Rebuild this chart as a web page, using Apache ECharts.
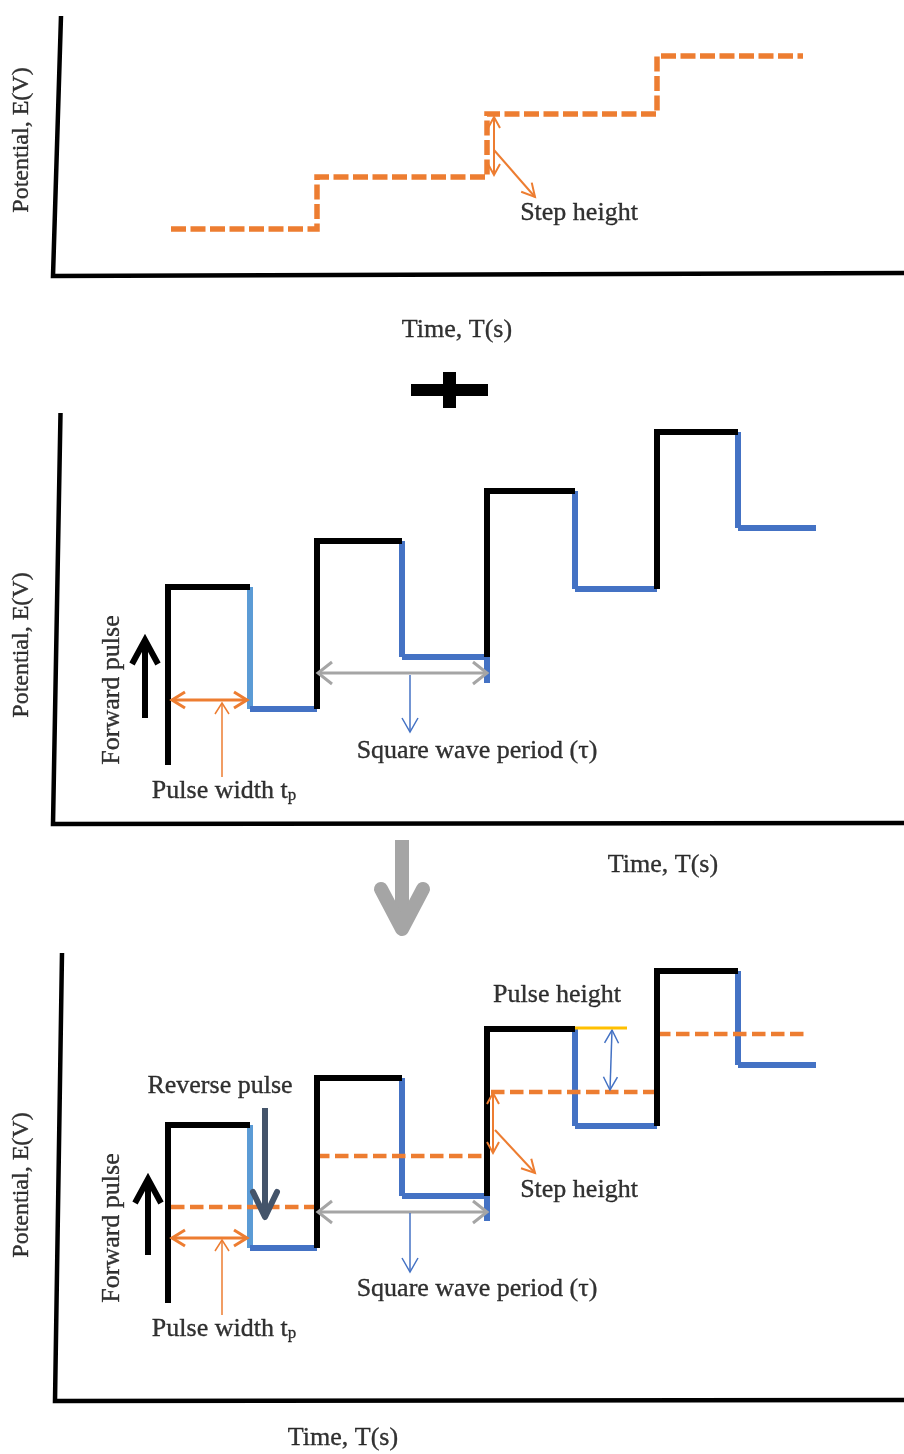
<!DOCTYPE html>
<html><head><meta charset="utf-8">
<script src="https://cdn.jsdelivr.net/npm/echarts@6/dist/echarts.min.js"></script>
<style>html,body{margin:0;padding:0;background:#fff}#c{width:904px;height:1454px}</style>
</head><body><div id="c"></div>
<script>
// ================= DATA (time units / potential units) =================
// Panel 1: staircase potential
const stair1Times  = [11.8, 26.4, 43.4, 60.4, 75.0];
const stair1Levels = [4.7, 9.9, 16.2, 22.0, 22.0];

// Square-wave edges (rise, fall, rise, fall, ..., end) shared by panels 2 and 3
const edgeTimes = [11.5, 19.7, 26.4, 34.9, 43.4, 52.2, 60.4, 68.5, 76.3];

// Panel 2: square wave
const wave2Start   = 5.9;
const wave2Tops    = [23.7, 28.3, 33.3, 39.2];
const wave2Bottoms = [11.5, 16.7, 23.5, 29.6];
const wave2Tail    = 14.1;

// Panel 3: square wave superimposed on staircase
const wave3Start   = 9.8;
const wave3Tops    = [27.6, 32.3, 37.2, 43.0];
const wave3Bottoms = [15.3, 20.5, 27.5, 33.6];
const wave3Tail    = 18.0;
const stair3Starts = [11.8, 26.3, 43.8, 60.4];
const stair3Ends   = [26.3, 43.4, 60.4, 75.1];
const stair3Levels = [19.4, 24.5, 30.9, 36.7];

// Hand-drawn axis frames (top of y axis, origin, end of x axis)
const frame1 = [[0.8, 26.0], [0, 0], [85.1, 0.3]];
const frame2 = [[0.75, 41.1], [0, 0], [85.1, 0.1]];
const frame3 = [[0.9, 44.8], [0.2, 0], [85.1, 0.1]];

// Annotation arrows: [x1, y1, x2, y2, headAtStart, headAtEnd]
const stepArrow1     = [[44.1, 15.9, 44.1, 10.1, 1, 1]];
const stepPointer1   = [[44.1, 12.6, 48.2, 7.9, 0, 1]];

const forward2       = [[9.2, 10.6, 9.2, 18.4, 0, 1]];
const pulseWidth2    = [[11.9, 12.4, 19.4, 12.4, 1, 1]];
const pwPointer2     = [[16.9, 4.7, 16.9, 12.1, 0, 1]];
const period2        = [[26.5, 15.1, 43.4, 15.1, 1, 1]];
const periodPointer2 = [[35.7, 14.9, 35.7, 9.2, 0, 1]];
const plusSign       = [[35.8, 43.4, 43.5, 43.4, 0, 0], [39.65, 45.2, 39.65, 41.6, 0, 0]];
const bigArrow       = [[34.9, -1.6, 34.9, -10.5, 0, 1]];

const forward3       = [[9.5, 14.6, 9.5, 22.2, 0, 1]];
const reverse3       = [[21.2, 29.3, 21.2, 18.4, 0, 1]];
const pulseWidth3    = [[11.9, 16.3, 19.4, 16.3, 1, 1]];
const pwPointer3     = [[16.9, 8.6, 16.9, 16.1, 0, 1]];
const period3        = [[26.5, 18.9, 43.4, 18.9, 1, 1]];
const periodPointer3 = [[35.7, 18.8, 35.7, 12.9, 0, 1]];
const stepArrow3     = [[44.0, 30.8, 44.0, 24.8, 1, 1]];
const stepPointer3   = [[44.2, 27.1, 48.2, 22.8, 0, 1]];
const pulseHArrow3   = [[55.9, 37.1, 55.7, 31.1, 1, 1]];
const pulseHRef3     = [[52.2, 37.3, 57.4, 37.3, 0, 0]];

// Text annotations: [text, x, y]
const notes1  = [['Step height', 52.6, 6.3], ['Time, T(s)', 40.4, -5.4]];
const yTitle1 = [['Potential, E(V)', -3.1, 13.6]];
const notes2  = [['Pulse width t{s|p}', 17.1, 3.3], ['Square wave period (τ)', 42.4, 7.3], ['Time, T(s)', 61.0, -4.1]];
const side2   = [['Forward pulse', 5.9, 13.4]];
const yTitle2 = [['Potential, E(V)', -3.1, 17.9]];
const notes3  = [['Reverse pulse', 16.7, 31.5], ['Pulse height', 50.4, 40.6], ['Step height', 52.6, 21.1],
                 ['Pulse width t{s|p}', 17.1, 7.2], ['Square wave period (τ)', 42.4, 11.2], ['Time, T(s)', 29.0, -3.7]];
const side3   = [['Forward pulse', 5.9, 17.3]];
const yTitle3 = [['Potential, E(V)', -3.1, 21.6]];

// ================= STYLES / BUILDERS =================
const FONT = '"Liberation Serif","Times New Roman",serif';
const ORANGE = '#ED7D31', BLUE = '#4472C4', LBLUE = '#5B9BD5', GRAY = '#A5A5A5', SLATE = '#44546A', YELLOW = '#FFC000';

function poly(grid, pts, color, width, z, extra) {
  return Object.assign({
    type: 'line', xAxisIndex: grid, yAxisIndex: grid, data: pts, symbol: 'none', silent: true,
    animation: false, z: z, clip: false,
    lineStyle: Object.assign({ color: color, width: width, cap: 'butt', join: 'miter' }, (extra && extra.ls) || {})
  }, (extra && extra.opt) || {});
}

function waveSeries(grid, start, tops, bottoms, tail) {
  const out = [];
  for (let i = 0; i < tops.length; i++) {
    const rise = edgeTimes[2 * i], fall = edgeTimes[2 * i + 1], next = edgeTimes[2 * i + 2];
    const prev = i === 0 ? start : bottoms[i - 1];
    out.push(poly(grid, [[rise, prev], [rise, tops[i]], [fall, tops[i]]], '#000', 6, 6));
    out.push(poly(grid, [[fall, tops[i]], [fall, bottoms[i]]], i === 0 ? LBLUE : BLUE, 6, 4));
    out.push(poly(grid, [[fall, bottoms[i]], [next, bottoms[i]]], BLUE, 6, 4));
  }
  out.push(poly(grid, [[edgeTimes[4], bottoms[1]], [edgeTimes[4], tail]], BLUE, 6, 4));
  return out;
}

function arrowSeries(grid, items, st) {
  return {
    type: 'custom', xAxisIndex: grid, yAxisIndex: grid, z: st.z || 10, silent: true, animation: false, clip: false,
    dimensions: ['x1', 'y1', 'x2', 'y2', 'hs', 'he'],
    encode: { x: [0, 2], y: [1, 3] },
    data: items,
    renderItem: function (params, api) {
      const a = api.coord([api.value(0), api.value(1)]);
      const b = api.coord([api.value(2), api.value(3)]);
      const kids = [{ type: 'line', shape: { x1: a[0], y1: a[1], x2: b[0], y2: b[1] },
        style: { stroke: st.color, lineWidth: st.width, lineCap: st.cap || 'butt', fill: 'none' } }];
      const head = function (tip, from) {
        const dx = tip[0] - from[0], dy = tip[1] - from[1], len = Math.hypot(dx, dy) || 1;
        const ux = dx / len, uy = dy / len, px = -uy, py = ux;
        const bx = tip[0] - ux * st.L, by = tip[1] - uy * st.L;
        kids.push({ type: 'polyline', shape: { points: [[bx + px * st.W, by + py * st.W], [tip[0], tip[1]], [bx - px * st.W, by - py * st.W]] },
          style: { stroke: st.color, lineWidth: st.hw || st.width, fill: 'none', lineJoin: st.join || 'miter', lineCap: st.hcap || 'butt' } });
      };
      if (api.value(4)) head(a, b);
      if (api.value(5)) head(b, a);
      return { type: 'group', children: kids };
    }
  };
}

function labelSeries(grid, items, size, rot) {
  return {
    type: 'scatter', xAxisIndex: grid, yAxisIndex: grid, symbol: 'circle', symbolSize: 1, silent: true,
    animation: false, clip: false, z: 20, itemStyle: { color: 'rgba(0,0,0,0)' },
    data: items.map(function (d) {
      return { value: [d[1], d[2]], label: {
        show: true, position: 'inside', formatter: d[0], rotate: rot || 0, color: '#000',
        textBorderColor: '#000', textBorderWidth: 0.35,
        fontFamily: FONT, fontSize: size, lineHeight: 26,
        rich: { s: { fontFamily: FONT, fontSize: 17, lineHeight: 12, verticalAlign: 'bottom', color: '#000',
                     textBorderColor: '#000', textBorderWidth: 0.3 } }
      } };
    })
  };
}

const series = [];
// ---- panel 1 ----
series.push(poly(0, frame1, '#000', 4.5, 1));
series.push(poly(0, stair1Times.map((t, i) => [t, stair1Levels[i]]), ORANGE, 5.5, 3,
  { ls: { type: [15, 4.5] }, opt: { step: 'end' } }));
series.push(arrowSeries(0, stepArrow1, { color: ORANGE, width: 2, L: 11, W: 6 }));
series.push(arrowSeries(0, stepPointer1, { color: ORANGE, width: 2, L: 13, W: 7 }));
series.push(labelSeries(0, notes1, 26, 0));
series.push(labelSeries(0, yTitle1, 24, 90));

// ---- panel 2 ----
series.push(poly(1, frame2, '#000', 4.5, 1));
waveSeries(1, wave2Start, wave2Tops, wave2Bottoms, wave2Tail).forEach(s => series.push(s));
series.push(arrowSeries(1, forward2, { color: '#000', width: 6, L: 24, W: 13, hw: 6 }));
series.push(arrowSeries(1, pulseWidth2, { color: ORANGE, width: 3, L: 13, W: 8 }));
series.push(arrowSeries(1, pwPointer2, { color: ORANGE, width: 1.5, L: 11, W: 7 }));
series.push(arrowSeries(1, period2, { color: GRAY, width: 3, L: 14, W: 11 }));
series.push(arrowSeries(1, periodPointer2, { color: BLUE, width: 1.5, L: 14, W: 8 }));
series.push(arrowSeries(1, plusSign.slice(0, 1), { color: '#000', width: 12 }));
series.push(arrowSeries(1, plusSign.slice(1), { color: '#000', width: 13 }));
series.push(arrowSeries(1, bigArrow, { color: GRAY, width: 14, L: 40, W: 21, join: 'round', hcap: 'round' }));
series.push(labelSeries(1, notes2, 26, 0));
series.push(labelSeries(1, side2, 26, 90));
series.push(labelSeries(1, yTitle2, 24, 90));

// ---- panel 3 ----
series.push(poly(2, frame3, '#000', 4.5, 1));
waveSeries(2, wave3Start, wave3Tops, wave3Bottoms, wave3Tail).forEach(s => series.push(s));
stair3Levels.forEach((lv, i) => series.push(poly(2, [[stair3Starts[i], lv], [stair3Ends[i], lv]], ORANGE, 4.5, 5, { ls: { type: [13.5, 5.5] } })));
series.push(arrowSeries(2, forward3, { color: '#000', width: 6, L: 24, W: 13 }));
series.push(arrowSeries(2, reverse3, { color: SLATE, width: 6, L: 25, W: 12, join: 'round', hcap: 'round', z: 12 }));
series.push(arrowSeries(2, pulseWidth3, { color: ORANGE, width: 3, L: 13, W: 8 }));
series.push(arrowSeries(2, pwPointer3, { color: ORANGE, width: 1.5, L: 11, W: 7 }));
series.push(arrowSeries(2, period3, { color: GRAY, width: 3, L: 14, W: 11 }));
series.push(arrowSeries(2, periodPointer3, { color: BLUE, width: 1.5, L: 14, W: 8 }));
series.push(arrowSeries(2, stepArrow3, { color: ORANGE, width: 2, L: 11, W: 6 }));
series.push(arrowSeries(2, stepPointer3, { color: ORANGE, width: 2, L: 13, W: 7 }));
series.push(arrowSeries(2, pulseHArrow3, { color: BLUE, width: 1.5, L: 13, W: 7 }));
series.push(arrowSeries(2, pulseHRef3, { color: YELLOW, width: 3 }));
series.push(labelSeries(2, notes3, 26, 0));
series.push(labelSeries(2, side3, 26, 90));
series.push(labelSeries(2, yTitle3, 24, 90));

const grids = [
  { left: 0, top: 0, width: 904, height: 344 },
  { left: 0, top: 344, width: 904, height: 600 },
  { left: 0, top: 944, width: 904, height: 510 }
];
const yRanges = [[-6.8, 27.6], [-12, 48], [-5.3, 45.7]];

const chart = echarts.init(document.getElementById('c'), null, { renderer: 'canvas' });
chart.setOption({
  backgroundColor: '#fff',
  animation: false,
  grid: grids,
  xAxis: grids.map((g, i) => ({ type: 'value', gridIndex: i, min: -5.3, max: 85.1, show: false })),
  yAxis: grids.map((g, i) => ({ type: 'value', gridIndex: i, min: yRanges[i][0], max: yRanges[i][1], show: false })),
  series: series
});
</script></body></html>
